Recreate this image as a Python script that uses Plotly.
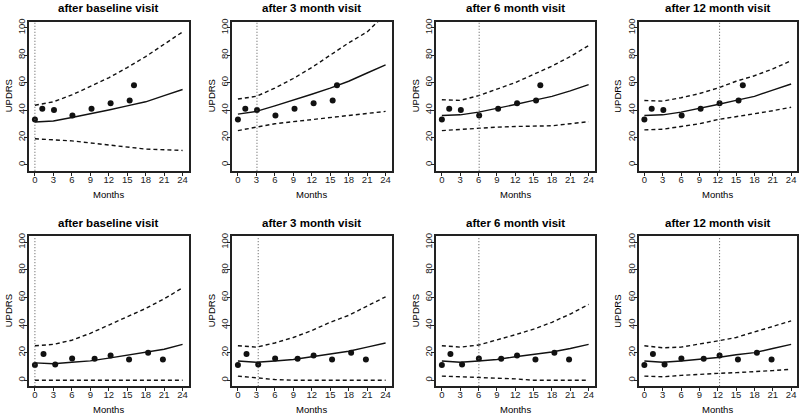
import plotly.graph_objects as go

months = [0, 3, 6, 9, 12, 15, 18, 21, 24]
panel_titles = ["after baseline visit", "after 3 month visit", "after 6 month visit", "after 12 month visit"]
x_ticks = [0, 3, 6, 9, 12, 15, 18, 21, 24]
y_ticks = [0, 20, 40, 60, 80, 100]

# observed visits
obs_top_x = [0, 1.2, 3.1, 6.1, 9.2, 12.3, 15.4, 16.1]
obs_top_y = [33, 41, 40, 36, 41, 45, 47, 58]
obs_bot_x = [0, 1.4, 3.3, 6.05, 9.7, 12.3, 15.3, 18.4, 20.8]
obs_bot_y = [11, 19, 11.5, 15.8, 15.5, 18, 15, 20, 15]

visit_top = [0, 3.1, 6.1, 12.3]
visit_bot = [0, 3.3, 6.05, 12.3]

# top row predictions
top_mean = [
    [31.3, 32, 34.5, 37, 40, 43, 46, 50.5, 55],
    [37, 39, 43, 47, 51.5, 56, 61, 67, 73],
    [36, 36.5, 38.5, 41, 44, 47, 50, 54, 58.5],
    [36, 36.5, 38.5, 41, 44, 47, 50, 54.5, 59],
]
top_upper = [
    [43.5, 46, 51, 57, 63.5, 71, 79, 88, 97],
    [48, 50, 56, 63, 71, 80, 89, 97, 110],
    [47.5, 47, 50.5, 55, 60, 66, 72, 79, 87],
    [47, 46.5, 49, 52, 56, 61, 65, 70, 76],
]
top_lower = [
    [19, 18.5, 17.5, 16, 14.5, 13, 11.5, 11, 10.5],
    [25, 27.5, 30, 31.5, 33, 34.5, 35.5, 37, 39],
    [25, 26, 26.5, 27.5, 28, 28.5, 28.5, 30, 31.5],
    [25.5, 26, 28, 30, 33, 35, 37, 39.5, 42],
]

# bottom row predictions
bot_mean = [
    [12.6, 12, 13, 14, 16, 18, 20, 22.5, 26],
    [14, 13, 14, 15, 17, 19, 21, 24, 27],
    [14, 13, 14, 15, 17, 18.5, 20.5, 23, 26],
    [14, 13, 14, 15, 16.5, 18.5, 20, 23, 26],
]
bot_upper = [
    [25, 26, 29, 34, 40, 46, 52, 59, 67],
    [25, 24, 27, 31, 36, 42, 47, 53.5, 60.5],
    [25, 24, 25.5, 29, 33, 37, 42, 48, 55],
    [25, 23.5, 24, 26, 28.5, 31, 35, 39, 43],
]
bot_lower = [
    [0, 0, 0, 0, 0, 0, 0, 0, 0],
    [3, 1.5, 0.5, 0, 0, 0, 0, 0, 0],
    [3, 2.5, 2.5, 2, 1, 0, 0, 0, 0],
    [3, 2.5, 3.5, 4.5, 5, 5.5, 6, 7, 8],
]

W, H = 800, 414
x_doms = [(29, 188.5), (232, 391.5), (436, 594.5), (638.5, 797)]
y_doms = [(19, 169), (235, 386)]  # pixel top, bottom
months_gap = [24, 23]

fig = go.Figure()
font = "Liberation Sans, Arial, sans-serif"
annotations = []
shapes = []
axes = {}

rows = [
    (obs_top_x, obs_top_y, visit_top, top_mean, top_upper, top_lower),
    (obs_bot_x, obs_bot_y, visit_bot, bot_mean, bot_upper, bot_lower),
]

idx = 0
for r, (ox, oy, visits, means, uppers, lowers) in enumerate(rows):
    ytop, ybot = y_doms[r]
    yd = [(H - ybot) / H, (H - ytop) / H]
    for c in range(4):
        idx += 1
        sfx = "" if idx == 1 else str(idx)
        xa = "x" + sfx
        ya = "y" + sfx
        xd = [x_doms[c][0] / W, x_doms[c][1] / W]
        common = dict(showgrid=False, zeroline=False, showline=True, mirror=True,
                      linecolor="#222", linewidth=1.5,
                      ticks="outside", ticklen=3, tickcolor="#222", tickwidth=1,
                      tickfont=dict(family=font, size=9.5, color="#222"))
        axes["xaxis" + sfx] = dict(domain=xd, range=[-0.96, 24.96], tickvals=x_ticks,
                                   anchor=ya, ticklabelstandoff=-4, **common)
        axes["yaxis" + sfx] = dict(domain=yd, range=[-4.32, 104.32], tickvals=y_ticks,
                                   tickangle=-90, anchor=xa, ticklabelstandoff=-5, **common)

        fig.add_trace(go.Scatter(x=months, y=uppers[c], mode="lines", xaxis=xa, yaxis=ya,
                                 line=dict(color="#111", width=1.4, dash="4px,3px"), showlegend=False))
        fig.add_trace(go.Scatter(x=months, y=lowers[c], mode="lines", xaxis=xa, yaxis=ya,
                                 line=dict(color="#111", width=1.4, dash="4px,3px"), showlegend=False))
        fig.add_trace(go.Scatter(x=months, y=means[c], mode="lines", xaxis=xa, yaxis=ya,
                                 line=dict(color="#111", width=1.4), showlegend=False))
        fig.add_trace(go.Scatter(x=ox, y=oy, mode="markers", xaxis=xa, yaxis=ya,
                                 marker=dict(color="#111", size=6), showlegend=False, cliponaxis=False))
        shapes.append(dict(type="line", xref=xa, yref=ya + " domain", x0=visits[c], x1=visits[c],
                           y0=0, y1=1, line=dict(color="#555", width=1, dash="1px,2px")))

        cx = (xd[0] + xd[1]) / 2
        annotations.append(dict(text="<b>" + panel_titles[c] + "</b>", x=cx, xref="paper",
                                y=(H - (ytop - 13.5)) / H, yref="paper", showarrow=False,
                                font=dict(family=font, size=11.5, color="black"),
                                xanchor="center", yanchor="middle"))
        annotations.append(dict(text="Months", x=cx, xref="paper", y=(H - (ybot + months_gap[r])) / H,
                                yref="paper", showarrow=False,
                                font=dict(family=font, size=9.5, color="black"),
                                xanchor="center", yanchor="middle"))
        annotations.append(dict(text="UPDRS", x=(x_doms[c][0] - 21) / W, xref="paper",
                                y=(yd[0] + yd[1]) / 2, yref="paper", textangle=-90, showarrow=False,
                                font=dict(family=font, size=9.5, color="black"),
                                xanchor="center", yanchor="middle"))

fig.update_layout(width=W, height=H, margin=dict(l=0, r=0, t=0, b=0),
                  plot_bgcolor="white", paper_bgcolor="white",
                  annotations=annotations, shapes=shapes, showlegend=False, **axes)

fig.write_html("out.html", config={"displayModeBar": False},
               post_script="document.body.style.margin='0';document.body.style.padding='0';document.body.style.overflow='hidden';")
